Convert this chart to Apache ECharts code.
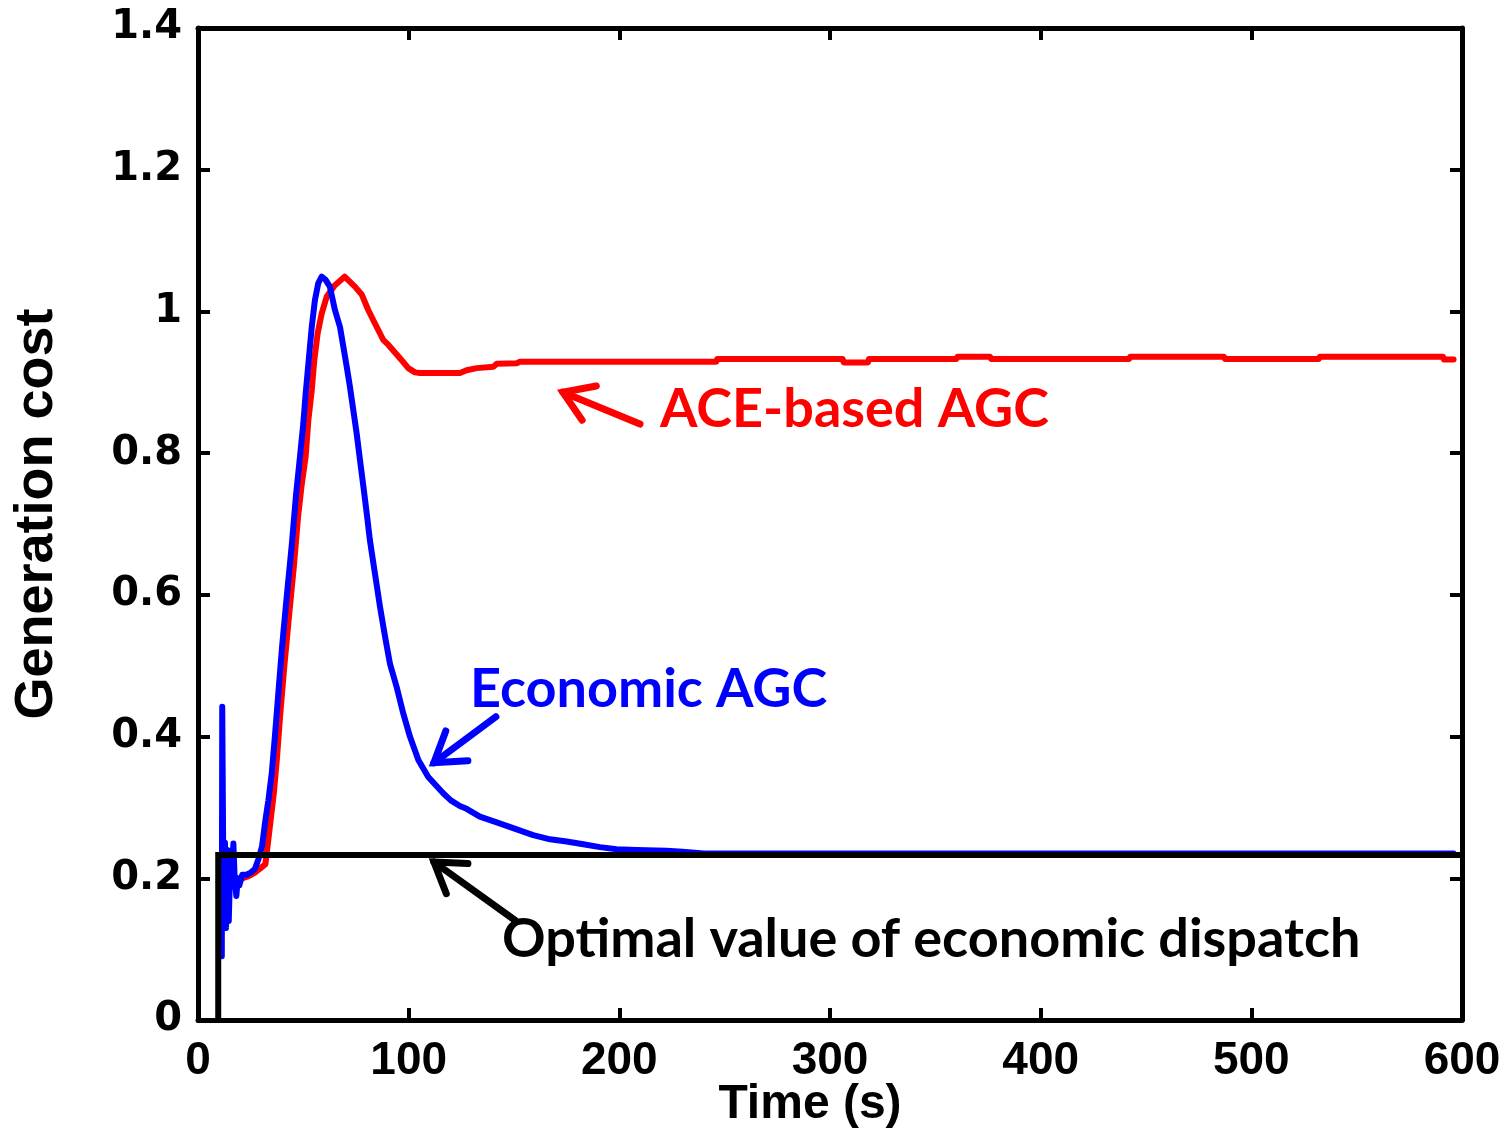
<!DOCTYPE html>
<html><head><meta charset="utf-8">
<script src="https://cdn.jsdelivr.net/npm/echarts@6.0.0/dist/echarts.min.js"></script>
<style>html,body{margin:0;padding:0;background:#fff}#c{width:1505px;height:1131px}</style>
</head><body><div id="c"></div>
<script>
// ---------- data ----------
const blueTime = [11.3,11.5,11.9,12.2,12.8,13.3,14.0,14.6,15.4,16.2,16.8,17.4,18.2,18.9,19.6,21,23,25,27,28.8,30.4,31.8,33.4,35,36.5,38.1,40,42.2,44.5,46.5,48.4,50,51.1,52.7,54,55.5,57.1,58.7,60.5,62.6,65,67.4,69,70.6,72.1,73.7,75.3,76.9,78.5,80.1,81.6,84,86.4,88.8,91.1,94.3,97.4,100.6,104.6,109.3,116.4,120,124.3,127.5,133.8,141.8,151.3,159.1,167.1,175,182.9,190.8,198.7,208.2,222.4,230,240,596];
const blueCost = [0.09,0.442,0.44,0.13,0.25,0.13,0.24,0.14,0.23,0.21,0.249,0.2,0.175,0.2,0.19,0.205,0.205,0.208,0.213,0.228,0.245,0.278,0.31,0.348,0.40,0.46,0.53,0.6,0.67,0.74,0.795,0.842,0.884,0.936,0.978,1.016,1.04,1.049,1.045,1.035,1.002,0.978,0.95,0.922,0.894,0.861,0.828,0.79,0.753,0.715,0.677,0.63,0.583,0.541,0.503,0.47,0.433,0.4,0.367,0.343,0.32,0.31,0.302,0.298,0.287,0.279,0.269,0.261,0.255,0.252,0.248,0.244,0.241,0.24,0.239,0.2375,0.235,0.235];

const redTime = [10.5,12,15,18,21,24,27,30,32,34,36,37.5,39,41,43.2,45.5,47.5,49.2,51.1,52.4,54,55.2,56.8,58.7,61.1,65,69.6,74.5,77.7,80.8,84,87.9,90.3,93.5,96.7,99.8,103,105.4,124.3,127.5,132.3,140.2,141.8,151.3,152.8,246,246.5,306,306.5,318,318.5,360,360.5,376,376.5,442,442.5,487,487.5,532,532.5,591,591.5,596];
const redCost = [0.17,0.2,0.2,0.195,0.2,0.203,0.208,0.215,0.22,0.27,0.32,0.37,0.43,0.5,0.57,0.64,0.71,0.755,0.795,0.847,0.889,0.931,0.969,0.997,1.021,1.037,1.049,1.035,1.024,1.002,0.983,0.96,0.953,0.942,0.931,0.92,0.914,0.913,0.913,0.917,0.92,0.922,0.926,0.927,0.929,0.929,0.933,0.933,0.928,0.928,0.933,0.933,0.936,0.936,0.933,0.933,0.936,0.936,0.933,0.933,0.936,0.936,0.932,0.932];

const optTime = [9.6,9.6,600];
const optCost = [0,0.233,0.233];

const xTickValues = [0,100,200,300,400,500,600];
const yTickValues = [0,0.2,0.4,0.6,0.8,1.0,1.2,1.4];

const seriesNames = ['ACE-based AGC','Economic AGC','Optimal value of economic dispatch'];
const xTitle = 'Time (s)';
const yTitle = 'Generation cost';

// ---------- chart ----------
const pairs = (t, v) => t.map((x, i) => [x, v[i]]);
const chart = echarts.init(document.getElementById('c'), null, {renderer: 'canvas'});

const tickStyle = {show: true, inside: true, length: 12, lineStyle: {color: '#000', width: 4}};
const axisLineStyle = {show: true, onZero: false, lineStyle: {color: '#000', width: 5}};
const xBase = {type: 'value', min: xTickValues[0], max: xTickValues[xTickValues.length-1], interval: 100, splitLine: {show: false}, axisLine: axisLineStyle, axisTick: tickStyle};
const yBase = {type: 'value', min: yTickValues[0], max: yTickValues[yTickValues.length-1], interval: 0.2, splitLine: {show: false}, axisLine: axisLineStyle, axisTick: tickStyle};

chart.setOption({
  animation: false,
  backgroundColor: '#fff',
  grid: {left: 198, right: 43, top: 28, bottom: 111, containLabel: false, outerBoundsMode: 'none'},
  xAxis: [
    Object.assign({}, xBase, {
      position: 'bottom',
      axisLabel: {color: '#000', fontFamily: 'Liberation Sans', fontWeight: 'bold', fontSize: 46, margin: 18},
      name: xTitle, nameLocation: 'middle', nameGap: 61, nameMoveOverlap: false,
      nameTextStyle: {color: '#000', fontFamily: 'Liberation Sans', fontWeight: 'bold', fontSize: 48, padding: [0, 40, 0, 0]}
    }),
    Object.assign({}, xBase, {position: 'top', axisLabel: {show: false}})
  ],
  yAxis: [
    Object.assign({}, yBase, {
      position: 'left',
      axisLabel: {color: '#000', fontFamily: 'DejaVu Sans', fontWeight: 'bold', fontSize: 40, margin: 16,
        formatter: v => String(+v.toFixed(1))},
      name: yTitle, nameLocation: 'middle', nameGap: 134, nameRotate: 90,
      nameTextStyle: {color: '#000', fontFamily: 'Liberation Sans', fontWeight: 'bold', fontSize: 54, padding: [0, 0, 0, 20]}
    }),
    Object.assign({}, yBase, {position: 'right', axisLabel: {show: false}})
  ],
  series: [
    {name: seriesNames[0], type: 'line', data: pairs(redTime, redCost), showSymbol: false, symbol: 'none',
     lineStyle: {color: '#ff0000', width: 6, cap: 'round', join: 'round'}, z: 2},
    {name: seriesNames[1], type: 'line', data: pairs(blueTime, blueCost), showSymbol: false, symbol: 'none',
     lineStyle: {color: '#0000ff', width: 6, cap: 'round', join: 'round'}, z: 3},
    {name: seriesNames[2], type: 'line', data: pairs(optTime, optCost), showSymbol: false, symbol: 'none',
     lineStyle: {color: '#000000', width: 6, cap: 'butt', join: 'miter'}, z: 4}
  ]
});

// ---------- annotations (placed in data coordinates) ----------
const notes = [
  {text: seriesNames[0], color: '#ff0000', at: [219.3, 0.861], tip: [173.2, 0.886], tail: [209.8, 0.841]},
  {text: seriesNames[1], color: '#0000ff', at: [129.1, 0.466], tip: [112.0, 0.363], tail: [141.4, 0.428]},
  {text: seriesNames[2], color: '#000000', at: [144.3, 0.113], tip: [112.0, 0.223], tail: [150.4, 0.141]}
];
const px = p => chart.convertToPixel({xAxisIndex: 0, yAxisIndex: 0}, p);
const graphics = [];
notes.forEach(n => {
  const a = px(n.at), t = px(n.tip), s = px(n.tail);
  graphics.push({type: 'text', x: a[0], y: a[1], z: 10,
    style: {text: n.text, fill: n.color, font: 'bold 54px Lato', textAlign: 'left', textVerticalAlign: 'middle'}});
  const dx = s[0] - t[0], dy = s[1] - t[1], L = Math.hypot(dx, dy);
  const ux = dx / L, uy = dy / L, bl = 34, ang = 33 * Math.PI / 180;
  const rot = (c, sn) => [t[0] + bl * (ux * c - uy * sn), t[1] + bl * (ux * sn + uy * c)];
  const b1 = rot(Math.cos(ang), Math.sin(ang)), b2 = rot(Math.cos(ang), -Math.sin(ang));
  graphics.push({type: 'polyline', z: 10, shape: {points: [t, s]}, style: {stroke: n.color, lineWidth: 7, lineCap: 'round', fill: null}});
  graphics.push({type: 'polyline', z: 10, shape: {points: [b1, t, b2]}, style: {stroke: n.color, lineWidth: 7, lineCap: 'round', lineJoin: 'miter', fill: null}});
});
chart.setOption({graphic: graphics});
</script>
</body></html>
